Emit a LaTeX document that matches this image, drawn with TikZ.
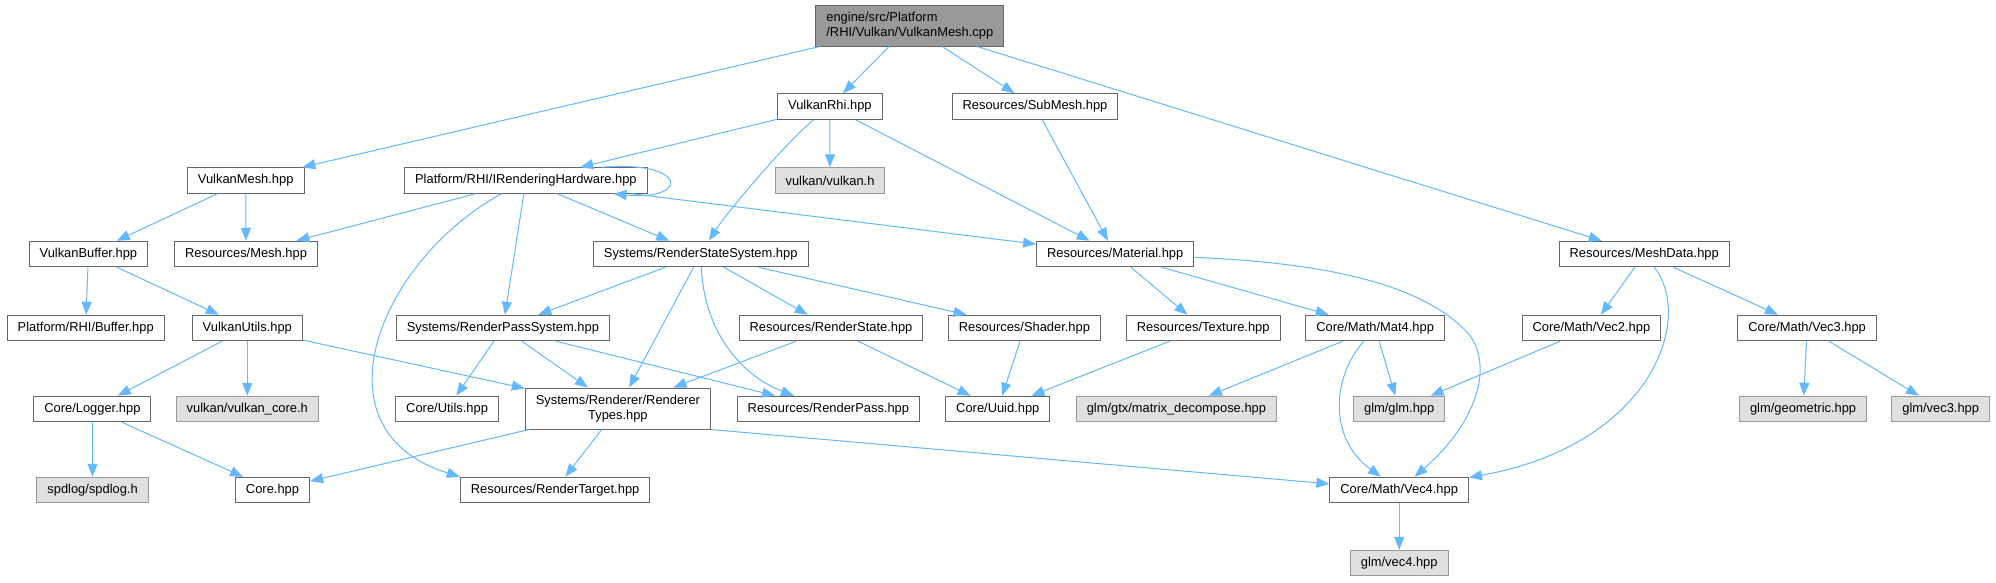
\documentclass[tikz,border=0pt]{standalone}
\usepackage{fontspec}
\setmainfont{Liberation Sans}
\usepackage{xcolor}
\usepackage{tikz}
\usetikzlibrary{arrows.meta}
\definecolor{edgeblue}{HTML}{63B8FF}
\definecolor{boxgray}{HTML}{666666}
\definecolor{extgray}{HTML}{999999}
\definecolor{extfill}{HTML}{E0E0E0}
\definecolor{rootfill}{HTML}{999999}

\begin{document}
\begin{tikzpicture}[x=1pt,y=-1pt,
  hdr/.style={draw=boxgray,fill=white,line width=1pt,minimum height=25.5pt,inner xsep=10.5pt,inner ysep=0pt,font=\fontsize{12.9pt}{15pt}\selectfont},
  ext/.style={hdr,draw=extgray,fill=extfill},
  dep/.style={draw=edgeblue,line width=1pt,-{Triangle[length=13pt,width=10pt]}}
]
\useasboundingbox (0,0) rectangle (1996,582);

\node[hdr,fill=rootfill,align=left,minimum height=41pt] (cpp) at (909.8,25.5) {engine/src/Platform\\/RHI/Vulkan/VulkanMesh.cpp};
\node[hdr] (vkmesh) at (245.7,180.5) {VulkanMesh.hpp};
\node[hdr] (vkrhi) at (829.9,106.5) {VulkanRhi.hpp};
\node[hdr] (submesh) at (1035,106.5) {Resources/SubMesh.hpp};
\node[hdr] (meshdata) at (1644.2,254) {Resources/MeshData.hpp};
\node[hdr] (irh) at (525.9,180.5) {Platform/RHI/IRenderingHardware.hpp};
\node[ext] (vkh) at (830,180.5) {vulkan/vulkan.h};
\node[hdr] (vkbuf) at (88.4,254) {VulkanBuffer.hpp};
\node[hdr] (mesh) at (246,254) {Resources/Mesh.hpp};
\node[hdr] (rss) at (700.7,254) {Systems/RenderStateSystem.hpp};
\node[hdr] (material) at (1115.2,254) {Resources/Material.hpp};
\node[hdr] (buffer) at (85.7,328) {Platform/RHI/Buffer.hpp};
\node[hdr] (vkutils) at (247.3,328) {VulkanUtils.hpp};
\node[hdr] (rps) at (502.9,328) {Systems/RenderPassSystem.hpp};
\node[hdr] (rstate) at (831,328) {Resources/RenderState.hpp};
\node[hdr] (shader) at (1024.4,328) {Resources/Shader.hpp};
\node[hdr] (texture) at (1203.2,328) {Resources/Texture.hpp};
\node[hdr] (mat4) at (1375.2,328) {Core/Math/Mat4.hpp};
\node[hdr] (vec2) at (1591.4,328) {Core/Math/Vec2.hpp};
\node[hdr] (vec3) at (1807.1,328) {Core/Math/Vec3.hpp};
\node[hdr] (logger) at (92.4,409) {Core/Logger.hpp};
\node[ext] (vkcore) at (247.3,409) {vulkan/vulkan\_core.h};
\node[hdr] (utils) at (447.1,409) {Core/Utils.hpp};
\node[hdr,align=center,minimum height=41pt] (rtypes) at (617.9,408.5) {Systems/Renderer/Renderer\\Types.hpp};
\node[hdr] (rpass) at (828.4,409) {Resources/RenderPass.hpp};
\node[hdr] (uuid) at (997.8,409) {Core/Uuid.hpp};
\node[ext] (decomp) at (1176.4,409) {glm/gtx/matrix\_decompose.hpp};
\node[ext] (glm) at (1399.2,409) {glm/glm.hpp};
\node[ext] (geom) at (1803.1,409) {glm/geometric.hpp};
\node[ext] (gvec3) at (1940.7,409) {glm/vec3.hpp};
\node[ext] (spdlog) at (92.6,490) {spdlog/spdlog.h};
\node[hdr] (core) at (272.5,490) {Core.hpp};
\node[hdr] (rtarget) at (555.1,490) {Resources/RenderTarget.hpp};
\node[hdr] (vec4) at (1399.2,490) {Core/Math/Vec4.hpp};
\node[ext] (gvec4) at (1399.2,563) {glm/vec4.hpp};

\draw[dep] (cpp) -- (vkmesh);
\draw[dep] (cpp) -- (vkrhi);
\draw[dep] (cpp) -- (submesh);
\draw[dep] (cpp) -- (meshdata);
\draw[dep] (vkrhi) -- (irh);
\draw[dep] (vkrhi) -- (vkh);
\draw[dep] (vkrhi) .. controls (785,143) and (725,215) .. (rss);
\draw[dep] (vkrhi) -- (material);
\draw[dep] (submesh) -- (material);
\draw[dep] ([xshift=-46pt]irh.north east) .. controls (688,160) and (690,201) .. ([xshift=-34pt]irh.south east);
\draw[dep] (irh) -- (mesh);
\draw[dep] (irh) -- (rss);
\draw[dep] (irh) -- (rps);
\draw[dep] (irh) .. controls (380,260) and (310,430) .. (rtarget.north west);
\draw[dep] (irh) -- (material);
\draw[dep] (vkmesh) -- (vkbuf);
\draw[dep] (vkmesh) -- (mesh);
\draw[dep] (vkbuf) -- (buffer);
\draw[dep] (vkbuf) -- (vkutils);
\draw[dep] (vkutils) -- (logger);
\draw[dep] (vkutils) -- (vkcore);
\draw[dep] (vkutils) -- (rtypes);
\draw[dep] (logger) -- (spdlog);
\draw[dep] (logger) -- (core);
\draw[dep] (rps) -- (utils);
\draw[dep] (rps) -- (rtypes);
\draw[dep] (rps) -- (rpass);
\draw[dep] (rss) -- (rps);
\draw[dep] (rss) -- (rtypes);
\draw[dep] (rss) .. controls (704,330) and (740,375) .. (rpass);
\draw[dep] (rss) -- (rstate);
\draw[dep] (rss) -- (shader);
\draw[dep] (rstate) -- (rtypes);
\draw[dep] (rstate) -- (uuid);
\draw[dep] (shader) -- (uuid);
\draw[dep] (texture) -- (uuid);
\draw[dep] (material) -- (texture);
\draw[dep] (material) -- (mat4);
\draw[dep] (material) .. controls (1330,263) and (1420,285) .. (1465,330) .. controls (1495,360) and (1480,420) .. (vec4);
\draw[dep] (mat4) -- (decomp);
\draw[dep] (mat4) -- (glm);
\draw[dep] (mat4) .. controls (1330,380) and (1330,440) .. (vec4);
\draw[dep] (vec2) -- (glm);
\draw[dep] (meshdata) -- (vec2);
\draw[dep] (meshdata) -- (vec3);
\draw[dep] (meshdata) .. controls (1695,320) and (1650,445) .. (vec4);
\draw[dep] (vec3) -- (geom);
\draw[dep] (vec3) -- (gvec3);
\draw[dep] (rtypes) -- (core);
\draw[dep] (rtypes) -- (rtarget);
\draw[dep] (rtypes.south east) -- (vec4);
\draw[dep] (vec4) -- (gvec4);
\end{tikzpicture}
\end{document}
